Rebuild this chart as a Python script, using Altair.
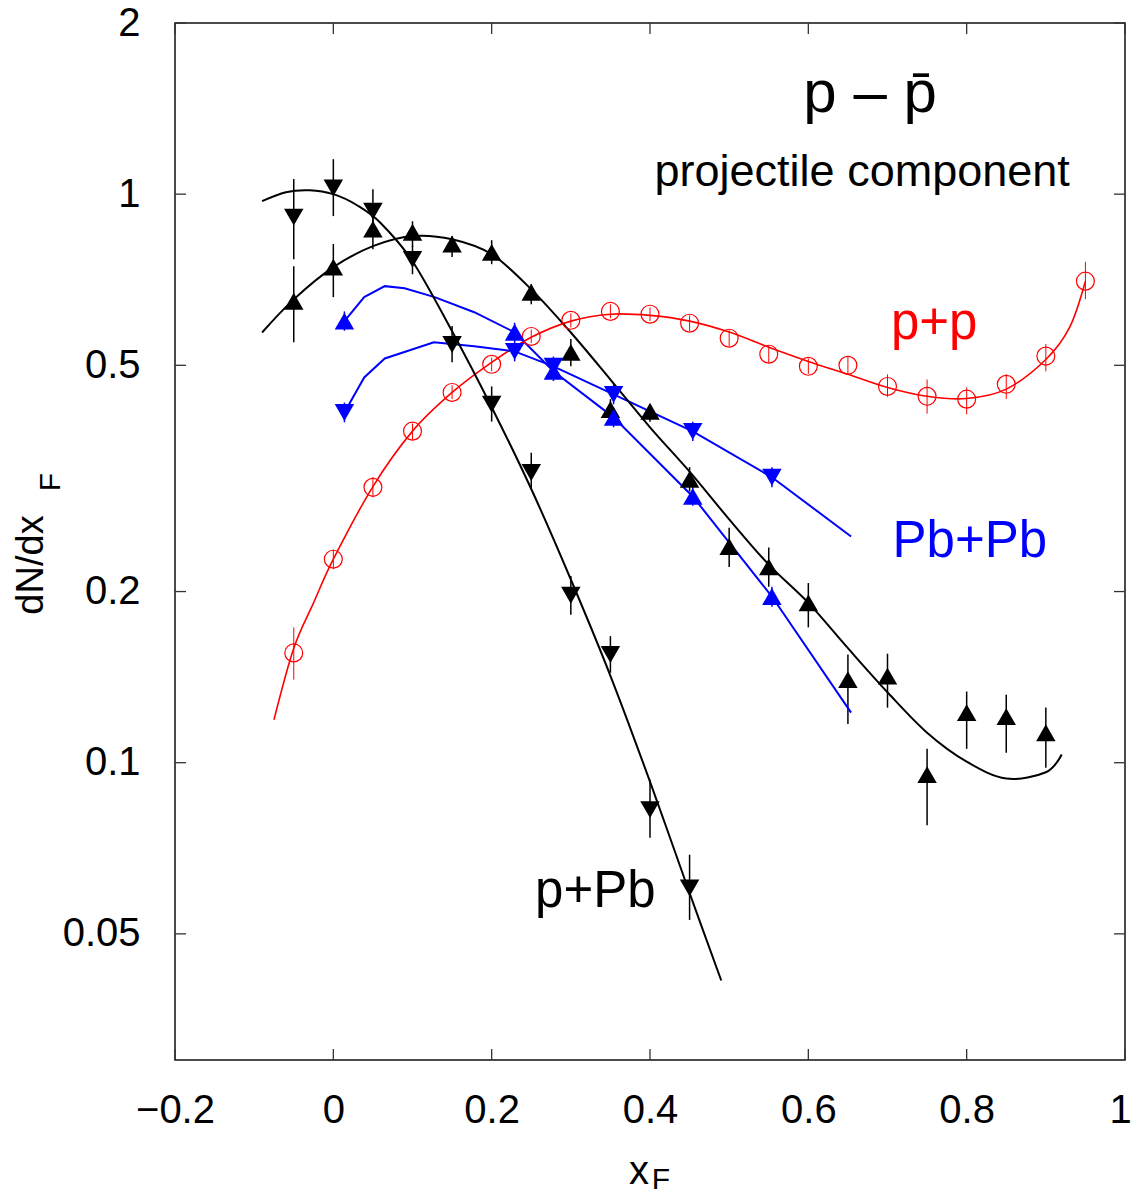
import altair as alt
import pandas as pd

# ---------------- data ----------------
# p+Pb (black down triangles)
pPb_x = [-0.05, 0.0, 0.05, 0.1, 0.15, 0.2, 0.25, 0.3, 0.35, 0.4, 0.45]
pPb_y = [0.911, 1.025, 0.933, 0.768, 0.544, 0.427, 0.324, 0.197, 0.155, 0.0827, 0.0602]
pPb_lo = [0.768, 0.915, 0.861, 0.723, 0.506, 0.398, 0.302, 0.182, 0.144, 0.0738, 0.0529]
pPb_hi = [1.063, 1.152, 1.02, 0.810, 0.586, 0.459, 0.351, 0.213, 0.167, 0.0933, 0.0689]
pPb_curve_x = [-0.09, -0.06, -0.03, 0.0, 0.03, 0.06, 0.1, 0.15, 0.2, 0.25, 0.3, 0.35, 0.4, 0.45, 0.49]
pPb_curve_y = [0.972, 1.008, 1.016, 1.0, 0.956, 0.889, 0.762, 0.574, 0.422, 0.303, 0.210, 0.1422, 0.0926, 0.0590, 0.0414]

# black up triangles
up_x = [-0.05, 0.0, 0.05, 0.1, 0.15, 0.2, 0.25, 0.3, 0.35, 0.4, 0.45, 0.5, 0.55, 0.6, 0.65, 0.7, 0.75, 0.8, 0.85, 0.9]
up_y = [0.648, 0.744, 0.868, 0.857, 0.817, 0.790, 0.672, 0.527, 0.418, 0.415, 0.315, 0.240, 0.221, 0.191, 0.140, 0.142, 0.0953, 0.1225, 0.1205, 0.1129]
up_lo = [0.549, 0.659, 0.80, 0.807, 0.775, 0.753, 0.640, 0.498, 0.402, 0.398, 0.300, 0.221, 0.204, 0.173, 0.117, 0.125, 0.0776, 0.1058, 0.1041, 0.098]
up_hi = [0.747, 0.817, 0.915, 0.896, 0.844, 0.830, 0.694, 0.556, 0.436, 0.427, 0.331, 0.259, 0.239, 0.207, 0.155, 0.1555, 0.1058, 0.1334, 0.1317, 0.125]
up_curve_x = [-0.09, -0.05, 0.0, 0.05, 0.1, 0.15, 0.2, 0.25, 0.3, 0.35, 0.4, 0.45, 0.5, 0.55, 0.6, 0.65, 0.7, 0.75, 0.8, 0.85, 0.9, 0.92]
up_curve_y = [0.571, 0.653, 0.744, 0.81, 0.844, 0.833, 0.784, 0.68, 0.571, 0.472, 0.389, 0.325, 0.268, 0.223, 0.191, 0.159, 0.133, 0.1129, 0.1004, 0.0938, 0.0962, 0.1034]

# p+p (red open circles)
pp_x = [-0.05, 0.0, 0.05, 0.1, 0.15, 0.2, 0.25, 0.3, 0.35, 0.4, 0.45, 0.5, 0.55, 0.6, 0.65, 0.7, 0.75, 0.8, 0.85, 0.9, 0.95]
pp_y = [0.156, 0.228, 0.305, 0.383, 0.448, 0.502, 0.562, 0.600, 0.622, 0.615, 0.593, 0.558, 0.523, 0.498, 0.500, 0.459, 0.441, 0.436, 0.463, 0.519, 0.703]
pp_lo = [0.140, 0.219, 0.293, 0.370, 0.436, 0.488, 0.547, 0.583, 0.605, 0.598, 0.574, 0.540, 0.505, 0.483, 0.483, 0.440, 0.411, 0.410, 0.436, 0.488, 0.654]
pp_hi = [0.173, 0.237, 0.318, 0.395, 0.461, 0.516, 0.578, 0.617, 0.640, 0.632, 0.612, 0.576, 0.541, 0.514, 0.517, 0.482, 0.472, 0.457, 0.482, 0.545, 0.760]
pp_curve_x = [-0.075, -0.05, -0.025, 0.0, 0.05, 0.1, 0.15, 0.2, 0.25, 0.3, 0.35, 0.4, 0.45, 0.5, 0.55, 0.6, 0.65, 0.7, 0.75, 0.8, 0.85, 0.9, 0.93, 0.95]
pp_curve_y = [0.119, 0.159, 0.191, 0.228, 0.306, 0.383, 0.448, 0.506, 0.560, 0.598, 0.615, 0.612, 0.598, 0.572, 0.538, 0.508, 0.482, 0.457, 0.441, 0.437, 0.454, 0.512, 0.583, 0.703]

# Pb+Pb (blue)
pbpb_x = [0.014, 0.229, 0.278, 0.354, 0.454, 0.554]
pbpb_up_y = [0.598, 0.5715, 0.488, 0.405, 0.294, 0.196]
pbpb_up_lo = [0.575, 0.550, 0.469, 0.389, 0.283, 0.188]
pbpb_up_hi = [0.622, 0.594, 0.508, 0.421, 0.306, 0.204]
pbpb_dn_y = [0.413, 0.529, 0.498, 0.4445, 0.3826, 0.3177]
pbpb_dn_lo = [0.397, 0.508, 0.478, 0.427, 0.368, 0.305]
pbpb_dn_hi = [0.430, 0.551, 0.518, 0.463, 0.398, 0.331]
pbpb_up_line_x = [0.014, 0.039, 0.065, 0.09, 0.128, 0.178, 0.229, 0.278, 0.354, 0.454, 0.554, 0.654]
pbpb_up_line_y = [0.598, 0.659, 0.689, 0.683, 0.659, 0.620, 0.5715, 0.488, 0.405, 0.294, 0.196, 0.1225]
pbpb_dn_line_x = [0.014, 0.039, 0.065, 0.127, 0.178, 0.229, 0.278, 0.354, 0.454, 0.554, 0.654]
pbpb_dn_line_y = [0.413, 0.476, 0.514, 0.549, 0.540, 0.529, 0.498, 0.4445, 0.3826, 0.3177, 0.25]

x_ticks = [-0.2, 0.0, 0.2, 0.4, 0.6, 0.8, 1.0]
y_ticks = [0.05, 0.1, 0.2, 0.5, 1, 2]

# ---------------- chart ----------------
W, H = 950, 1037
FONT = "Liberation Sans"
RED, BLUE, BLACK = "#ff0000", "#0000ff", "#000000"

xs = alt.Scale(domain=[-0.2, 1.0], nice=False, zero=False)
ys = alt.Scale(type="log", domain=[0.03, 2.0], nice=False)
ax_x = alt.Axis(values=x_ticks, format=".1~f", labelFontSize=40, labelFont=FONT,
                labelColor="black", ticks=False, tickSize=0, domain=False, grid=False,
                labelPadding=30, title=None, labelFlush=False, labelOverlap=False,
                labelOffset={"condition": {"test": "datum.value >= 1", "value": -5},
                             "value": 0})
ax_y = alt.Axis(values=y_ticks, format="~g", labelFontSize=40, labelFont=FONT,
                labelColor="black", ticks=False, tickSize=0, domain=False, grid=False,
                labelPadding=35, title=None, labelOverlap=False)


def X(f="x"):
    return alt.X(f"{f}:Q", scale=xs, axis=ax_x)


def Y(f="y"):
    return alt.Y(f"{f}:Q", scale=ys, axis=ax_y)


def pts(xv, yv, lo=None, hi=None):
    d = {"x": xv, "y": yv}
    if lo is not None:
        d["lo"] = lo
        d["hi"] = hi
    return pd.DataFrame(d)


def errbars(df, color, w=1.5):
    return alt.Chart(df).mark_rule(color=color, strokeWidth=w).encode(
        x=X(), y=Y("lo"), y2="hi:Q")


def curve(df, color, w=2.0, interp="cardinal"):
    return alt.Chart(df).mark_line(color=color, strokeWidth=w, interpolate=interp).encode(
        x=X(), y=Y())


def markers(df, shape, color, filled=True, size=380):
    if filled:
        m = alt.Chart(df).mark_point(shape=shape, filled=True, color=color, size=size, opacity=1)
    else:
        m = alt.Chart(df).mark_point(shape=shape, filled=False, color=color, size=size,
                                     strokeWidth=1.2, opacity=1)
    return m.encode(x=X(), y=Y())


d_pPb = pts(pPb_x, pPb_y, pPb_lo, pPb_hi)
d_up = pts(up_x, up_y, up_lo, up_hi)
d_pp = pts(pp_x, pp_y, pp_lo, pp_hi)
d_bu = pts(pbpb_x, pbpb_up_y, pbpb_up_lo, pbpb_up_hi)
d_bd = pts(pbpb_x, pbpb_dn_y, pbpb_dn_lo, pbpb_dn_hi)

# inward ticks on all four sides
ytdf = pd.DataFrame({"v": y_ticks})
xtdf = pd.DataFrame({"v": x_ticks})
TICK = 11
tick_col = "#333333"
t_left = alt.Chart(ytdf).mark_rule(color=tick_col, strokeWidth=1.3).encode(
    y=alt.Y("v:Q", scale=ys, axis=ax_y), x=alt.value(0), x2=alt.value(TICK))
t_right = alt.Chart(ytdf).mark_rule(color=tick_col, strokeWidth=1.3).encode(
    y=alt.Y("v:Q", scale=ys, axis=ax_y), x=alt.value(W - TICK), x2=alt.value(W))
t_bot = alt.Chart(xtdf).mark_rule(color=tick_col, strokeWidth=1.3).encode(
    x=alt.X("v:Q", scale=xs, axis=ax_x), y=alt.value(H - TICK), y2=alt.value(H))
t_top = alt.Chart(xtdf).mark_rule(color=tick_col, strokeWidth=1.3).encode(
    x=alt.X("v:Q", scale=xs, axis=ax_x), y=alt.value(0), y2=alt.value(TICK))


def label(txt, xv, yv, color, size):
    df = pd.DataFrame({"x": [xv], "y": [yv], "t": [txt]})
    return alt.Chart(df).mark_text(font=FONT, fontSize=size, color=color, align="center",
                                   baseline="alphabetic").encode(x=X(), y=Y(), text="t:N")


def ptext(txt, px, py, size, angle=0, align="center", baseline="alphabetic"):
    df = pd.DataFrame({"t": [txt]})
    kw = dict(font=FONT, fontSize=size, color="black", align=align, baseline=baseline)
    if angle:
        kw["angle"] = angle
    return alt.Chart(df).mark_text(**kw).encode(x=alt.value(px), y=alt.value(py), text="t:N")


layers = [
    t_left, t_right, t_bot, t_top,
    errbars(d_pp, RED, 1.0),
    errbars(d_up, BLACK, 1.5),
    errbars(d_pPb, BLACK, 1.5),
    errbars(d_bu, BLUE, 1.5),
    errbars(d_bd, BLUE, 1.5),
    curve(pts(pp_curve_x, pp_curve_y), RED, 1.6),
    curve(pts(pbpb_up_line_x, pbpb_up_line_y), BLUE, 2.0, "linear"),
    curve(pts(pbpb_dn_line_x, pbpb_dn_line_y), BLUE, 2.0, "linear"),
    curve(pts(up_curve_x, up_curve_y), BLACK, 2.0),
    curve(pts(pPb_curve_x, pPb_curve_y), BLACK, 2.0),
    markers(d_pp, "circle", RED, filled=False, size=320),
    markers(d_up, "triangle-up", BLACK),
    markers(d_pPb, "triangle-down", BLACK),
    markers(d_bu, "triangle-up", BLUE),
    markers(d_bd, "triangle-down", BLUE),
    label("p+p", 0.759, 0.5556, RED, 51),
    label("Pb+Pb", 0.804, 0.2296, BLUE, 51),
    label("p+Pb", 0.331, 0.0558, BLACK, 51),
    label("p \u2013 p\u0304", 0.678, 1.394, BLACK, 60),
    label("projectile component", 0.668, 1.033, BLACK, 45),
    # axis titles with subscripts
    ptext("dN/dx", -132, 542, 38, angle=270),
    ptext("F", -115, 459, 30, angle=270),
    ptext("x", 464, 1161, 40),
    ptext("F", 486, 1166, 30),
]

chart = alt.layer(*layers).properties(
    width=W, height=H,
    padding={"left": 175, "top": 23, "right": 7, "bottom": 137},
    autosize=alt.AutoSizeParams(type="none"),
).configure_view(stroke="#111111", strokeWidth=1.5)

chart.save("out.html", embed_options={"renderer": "svg", "actions": False})
